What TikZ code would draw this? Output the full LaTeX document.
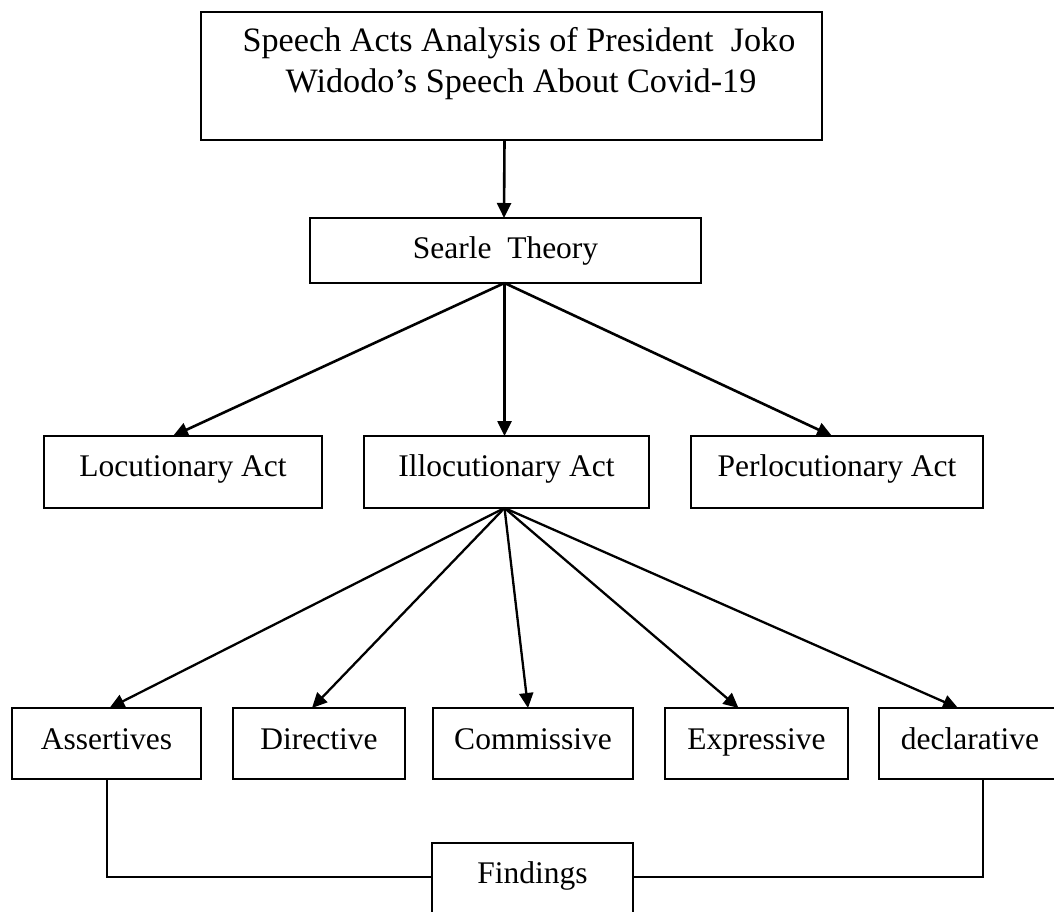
\documentclass[tikz,border=0pt]{standalone}
\usepackage{fontspec}
\setmainfont{Liberation Serif}
\usetikzlibrary{arrows.meta,calc}
\begin{document}
\begin{tikzpicture}[x=1pt,y=-1pt,
  bx/.style={draw, line width=2.5pt, inner sep=0pt, outer sep=0pt, anchor=north west, align=center,
    font=\fontsize{31.5}{38}\selectfont},
  midbox/.style={bx, text height=40pt, text depth=32pt},
  lowbox/.style={bx, line width=2pt, text height=41pt, text depth=30pt},
  lowboxthick/.style={lowbox, line width=2.8pt},
  txt/.style={anchor=base, inner sep=0pt, font=\fontsize{34.2}{41}\selectfont},
  arr/.style={line width=2.6pt, -{Triangle[length=15pt,width=14pt]}},
  arrthin/.style={line width=2.3pt, -{Triangle[length=15pt,width=14pt]}},
  conn/.style={line width=2pt}
]
\useasboundingbox (0,0) rectangle (1054,912);

% top box
\node[bx, line width=2.8pt, minimum width=621pt, minimum height=128pt] (top) at (201,12) {};
\node[txt] (t1) at (519,52) {Speech Acts Analysis of President\ \ Joko};
\node[txt] (t2) at (521,93) {Widodo’s Speech About Covid-19};

% Searle
\node[bx, minimum width=391pt, text height=40pt, text depth=25pt] (srl) at (310,218) {Searle\ \ Theory};

% middle row
\node[midbox, minimum width=278pt] (loc) at (44,436) {Locutionary Act};
\node[midbox, minimum width=285pt] (ill) at (364,436) {Illocutionary Act};
\node[midbox, minimum width=292pt] (per) at (691,436) {Perlocutionary Act};

% bottom row
\node[lowboxthick, minimum width=189pt] (as) at (12,708) {Assertives};
\node[lowboxthick, minimum width=172pt] (dir) at (233,708) {Directive};
\node[lowbox, minimum width=200pt] (com) at (433,708) {Commissive};
\node[lowbox, minimum width=183pt] (exp) at (665,708) {Expressive};
\node[lowbox, minimum width=182pt] (dec) at (879,708) {declarative};

% findings
\node[bx, line width=2pt, minimum width=201pt, text height=40pt, text depth=40pt] (fnd) at (432,843) {Findings};

% arrows
\draw[arr] ([xshift=-7pt]top.south) -- ([xshift=-1.5pt]srl.north);
\draw[arr] ([xshift=-1pt]srl.south) -- ([xshift=-10pt]loc.north);
\draw[arr] ([xshift=-1pt]srl.south) -- ([xshift=-2pt]ill.north);
\draw[arr] ([xshift=-1pt]srl.south) -- ([xshift=-5pt]per.north);

\draw[arrthin] ([xshift=-2pt]ill.south) -- ([xshift=3pt]as.north);
\draw[arrthin] ([xshift=-2pt]ill.south) -- ([xshift=-7pt]dir.north);
\draw[arrthin] ([xshift=-2pt]ill.south) -- ([xshift=-5pt]com.north);
\draw[arrthin] ([xshift=-2pt]ill.south) -- ([xshift=-18pt]exp.north);
\draw[arrthin] ([xshift=-2pt]ill.south) -- ([xshift=-12pt]dec.north);

% findings connectors
\draw[conn] (as.south) |- ([yshift=6pt]fnd.west);
\draw[conn] ([xshift=13pt]dec.south) |- ([yshift=6pt]fnd.east);
\end{tikzpicture}
\end{document}
